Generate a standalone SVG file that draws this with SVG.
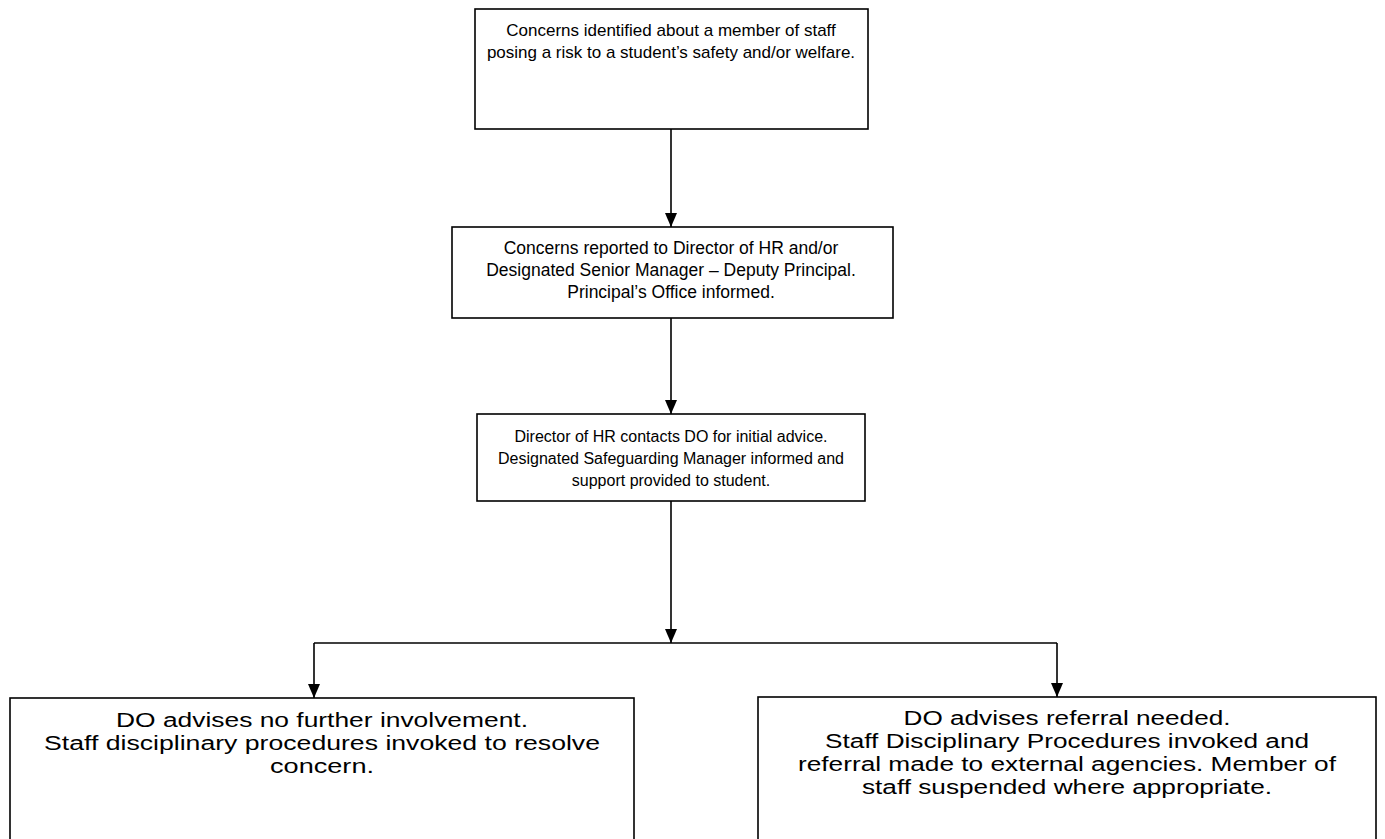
<svg xmlns="http://www.w3.org/2000/svg" width="1385" height="839" viewBox="0 0 1385 839">
<style>
.box{fill:#fff;stroke:#000;stroke-width:1.6}
.t{font-family:"Liberation Sans",Arial,sans-serif;font-size:16px;fill:#000;text-anchor:middle}
.t1{font-size:17px}
.t2{font-size:17.5px}
.tb{font-size:20px}
.c{fill:none;stroke:#000;stroke-width:1.6}
</style>
<defs>
<marker id="arr" markerWidth="14" markerHeight="12" refX="14" refY="6" orient="auto" markerUnits="userSpaceOnUse">
<path d="M0,0 L14,6 L0,12 Z" fill="#000"/>
</marker>
</defs>
<rect width="1385" height="839" fill="#fff"/>
<g id="connectors">
<path class="c" d="M671,129 V227" marker-end="url(#arr)"/>
<path class="c" d="M671,318 V414" marker-end="url(#arr)"/>
<path class="c" d="M671,501 V643" marker-end="url(#arr)"/>
<path class="c" d="M314,643 H1057"/>
<path class="c" d="M314,643 V698" marker-end="url(#arr)"/>
<path class="c" d="M1057,643 V697" marker-end="url(#arr)"/>
</g>
<g id="n1">
<rect class="box" x="475" y="9" width="393" height="120"/>
<text class="t t1" x="671" y="36">Concerns identified about a member of staff</text>
<text class="t t1" x="671" y="58">posing a risk to a student’s safety and/or welfare.</text>
</g>
<g id="n2">
<rect class="box" x="452" y="227" width="441" height="91"/>
<text class="t t2" x="671" y="254">Concerns reported to Director of HR and/or</text>
<text class="t t2" x="671" y="276">Designated Senior Manager – Deputy Principal.</text>
<text class="t t2" x="671" y="298">Principal’s Office informed.</text>
</g>
<g id="n3">
<rect class="box" x="477" y="414" width="388" height="87"/>
<text class="t" x="671" y="442">Director of HR contacts DO for initial advice.</text>
<text class="t" x="671" y="464">Designated Safeguarding Manager informed and</text>
<text class="t" x="671" y="486">support provided to student.</text>
</g>
<g id="n4">
<rect class="box" x="10" y="698" width="624" height="150"/>
<text class="t tb" x="322" y="727" textLength="412" lengthAdjust="spacingAndGlyphs">DO advises no further involvement.</text>
<text class="t tb" x="322" y="750" textLength="556" lengthAdjust="spacingAndGlyphs">Staff disciplinary procedures invoked to resolve</text>
<text class="t tb" x="322" y="773" textLength="104" lengthAdjust="spacingAndGlyphs">concern.</text>
</g>
<g id="n5">
<rect class="box" x="758" y="697" width="618" height="150"/>
<text class="t tb" x="1067" y="725" textLength="327" lengthAdjust="spacingAndGlyphs">DO advises referral needed.</text>
<text class="t tb" x="1067" y="748" textLength="484" lengthAdjust="spacingAndGlyphs">Staff Disciplinary Procedures invoked and</text>
<text class="t tb" x="1067" y="771" textLength="538" lengthAdjust="spacingAndGlyphs">referral made to external agencies. Member of</text>
<text class="t tb" x="1067" y="794" textLength="410" lengthAdjust="spacingAndGlyphs">staff suspended where appropriate.</text>
</g>
</svg>
